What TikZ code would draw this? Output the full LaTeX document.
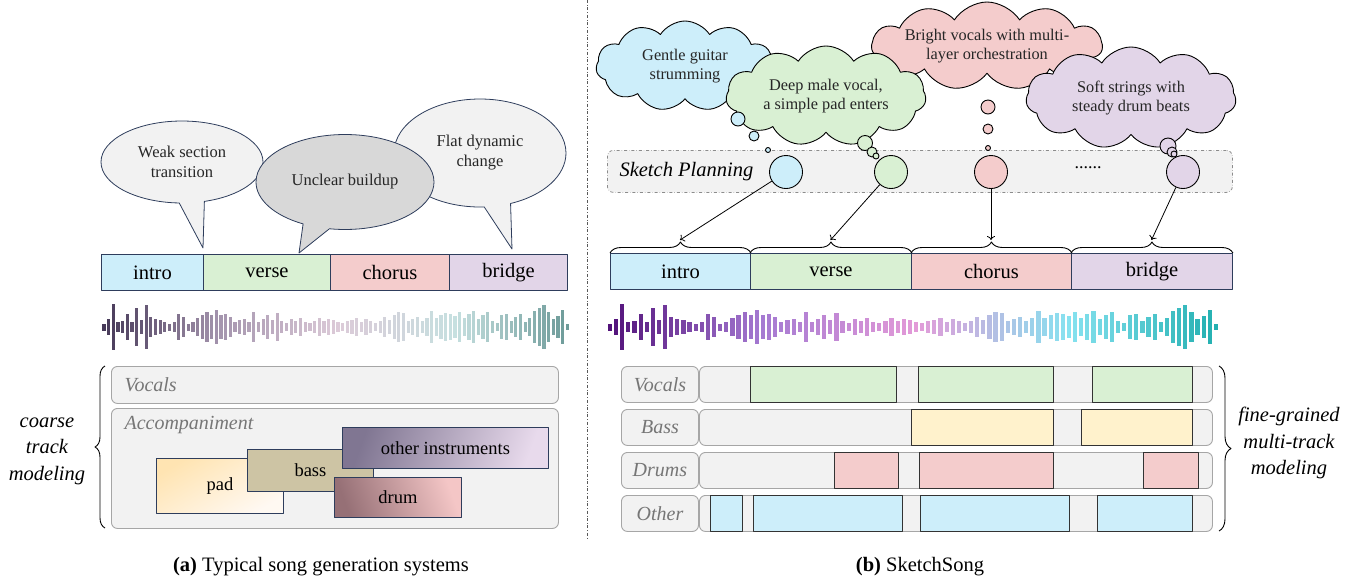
\documentclass[tikz,border=0pt]{standalone}
\usepackage{fontspec}
\setmainfont{Liberation Serif}
\usetikzlibrary{shapes.symbols,shapes.callouts,decorations.pathreplacing,arrows.meta}

\definecolor{cBlue}{HTML}{CDEEFA}
\definecolor{cGreen}{HTML}{D9F0D3}
\definecolor{cPink}{HTML}{F4CCCC}
\definecolor{cPurple}{HTML}{E2D5E8}
\definecolor{cYellow}{HTML}{FFF2CC}
\definecolor{secline}{HTML}{2E3D5C}
\definecolor{bubL}{HTML}{F2F2F2}
\definecolor{bubD}{HTML}{D8D8D8}
\definecolor{trkfill}{HTML}{F2F2F2}
\definecolor{trkline}{HTML}{A6A6A6}
\definecolor{lblgray}{HTML}{767676}
\definecolor{wA1}{HTML}{463958}
\definecolor{wA2}{HTML}{A595AE}
\definecolor{wA3}{HTML}{DCCAD8}
\definecolor{wA4}{HTML}{C6E0E0}
\definecolor{wA5}{HTML}{6A9896}
\definecolor{wB1}{HTML}{52127A}
\definecolor{wB2}{HTML}{A57AD2}
\definecolor{wB3}{HTML}{E39AD8}
\definecolor{wB4}{HTML}{86E2F0}
\definecolor{wB5}{HTML}{1FAEAE}

\newcommand\drawwave[8]{%
  \foreach \h [count=\i from 0] in {3.5,8,23,5,6,13,5,19,7,22,
    10,8,7,5,3.5,5,13,10,3.5,5,
    9,12,15,12,17,12,13,10,5,7,
    8,5,15,5,8,12,7,14,6,4,
    8,6,9,5,4,6,9,6,8,7,
    5,4,6,7,9,5,8,6,4,6,
    10,7,12,15,14,6,8,10,6,9,
    16,9,12,14,13,11,15,9,13,16,
    8,12,15,6,4,12,13,6,10,13,
    5,9,16,19,22,15,8,11,17,3}{%
    \pgfmathsetmacro\xx{#1+\i*#2}%
    \pgfmathtruncatemacro\seg{\i/25}%
    \pgfmathtruncatemacro\pc{100-4*mod(\i,25)}%
    \ifcase\seg\colorlet{wc}{#4!\pc!#5}\or\colorlet{wc}{#5!\pc!#6}\or\colorlet{wc}{#6!\pc!#7}\else\colorlet{wc}{#7!\pc!#8}\fi
    \fill[wc] (\xx-#3/2,327-\h) rectangle (\xx+#3/2,327+\h);
  }%
}

\tikzset{
  sec/.style={draw=secline, line width=0.9pt, inner sep=0pt, minimum height=36pt, anchor=north west, font=\fontsize{20.5}{24}\selectfont},
  bub/.style={ellipse callout, draw=secline, line width=0.8pt, align=center, inner sep=0pt, callout pointer arc=18, text=black!85, font=\fontsize{16.5}{20}\selectfont},
  brc/.style={decorate, decoration={brace, amplitude=#1}, line width=0.9pt},
  arr/.style={-{To[length=4pt,width=8pt]}, line width=0.8pt},
  trk/.style={draw=trkline, fill=trkfill, rounded corners=6pt, line width=0.9pt, inner sep=0pt, anchor=north west},
  lbl/.style={font=\fontsize{20}{24}\selectfont\itshape, text=lblgray},
  inst/.style={draw=secline, line width=0.9pt, inner sep=0pt, anchor=north west, font=\fontsize{18.5}{22}\selectfont},
  blk/.style={draw=black!80, line width=0.9pt},
  cld/.style={cloud, cloud puffs=11, cloud puff arc=115, cloud ignores aspect, draw=black, line width=0.9pt, align=center, inner sep=0pt, font=\fontsize{16.3}{19.5}\selectfont, text=black!85},
  tb/.style={circle, draw=black, line width=0.9pt, inner sep=0pt, minimum size=#1},
  sidetxt/.style={align=center, font=\fontsize{20.5}{26.5}\selectfont\itshape},
  captxt/.style={font=\fontsize{20.5}{24}\selectfont}
}

\begin{document}
\begin{tikzpicture}[x=1pt,y=-1pt,line join=round]
\useasboundingbox (0,0) rectangle (1365,582);

% divider
\coordinate (dvT) at (587,0);
\coordinate (dvB) at (587,540);
\draw[dash dot, black!65, line width=0.8pt] (dvT) -- (dvB);

% ---------------- left panel ----------------
\coordinate (tipW) at (203,248);
\node[bub, fill=bubL, minimum width=162pt, minimum height=82pt, callout absolute pointer={(tipW)}] (bW) at (182,162) {Weak section\\transition};
\coordinate (tipF) at (512,249);
\node[bub, fill=bubL, minimum width=172pt, minimum height=108pt, callout absolute pointer={(tipF)}] (bF) at (480,153) {Flat dynamic\\change};
\coordinate (tipU) at (299,253);
\node[bub, fill=bubD, minimum width=178pt, minimum height=95pt, callout absolute pointer={(tipU)}] (bU) at (345,182) {Unclear buildup};

\node[sec, fill=cBlue, minimum width=102pt] (li) at (101,254) {intro};
\node[sec, fill=cGreen, minimum width=127pt] (lv) at (203,254) {verse};
\node[sec, fill=cPink, minimum width=119pt] (lc) at (330,254) {chorus};
\node[sec, fill=cPurple, minimum width=118pt] (lb) at (449,254) {bridge};

\drawwave{104}{4.68}{3.2}{wA1}{wA2}{wA3}{wA4}{wA5}

\node[trk, minimum width=447pt, minimum height=37pt] (lvoc) at (111,366) {};
\node[lbl, anchor=west] (lvocT) at (121,385) {Vocals};
\node[trk, minimum width=447pt, minimum height=120pt] (lacc) at (111,408) {};
\node[lbl, anchor=west] (laccT) at (121,425) {Accompaniment};

\node[inst, top color=yellow!30!orange!30, bottom color=orange!5, shading angle=30, minimum width=127pt, minimum height=55pt] (pad) at (156,458) {pad};
\node[inst, fill={rgb,255:red,205;green,196;blue,164}, minimum width=126pt, minimum height=42pt] (bass) at (247,449) {bass};
\node[inst, left color={rgb,255:red,128;green,118;blue,146}, right color={rgb,255:red,232;green,218;blue,236}, shading angle=70, minimum width=206pt, minimum height=41pt] (oth) at (342,427) {other instruments};
\node[inst, left color={rgb,255:red,150;green,112;blue,118}, right color={rgb,255:red,244;green,198;blue,198}, shading angle=110, minimum width=127pt, minimum height=40pt] (drum) at (334,477) {drum};

\coordinate (lbrA) at (105,528);
\coordinate (lbrB) at (105,366);
\draw[brc=10pt] (lbrA) -- (lbrB);
\node[sidetxt] (coarse) at (47,451) {coarse\\track\\modeling};

\node[captxt] (capA) at (321,567) {\textbf{(a)} Typical song generation systems};

% ---------------- right panel ----------------
\node[draw=black!45, dash dot, fill=trkfill, rounded corners=6pt, line width=0.8pt, minimum width=625pt, minimum height=42pt, anchor=north west, inner sep=0pt] (band) at (607,150) {};
\node[font=\fontsize{20.5}{24}\selectfont\itshape, anchor=west] (spT) at (616,172) {Sketch Planning};
\node[font=\fontsize{18}{22}\selectfont] (dots) at (1088,168) {......};

\node[cld, fill=cBlue, minimum width=178pt, minimum height=90pt] (cB) at (685,66) {Gentle guitar\\strumming};
\node[cld, fill=cPink, minimum width=210pt, minimum height=88pt] (cP) at (987,46) {Bright vocals with multi-\\layer orchestration};
\node[cld, fill=cGreen, minimum width=200pt, minimum height=100pt] (cG) at (826,96) {Deep male vocal,\\a simple pad enters};
\node[cld, fill=cPurple, minimum width=210pt, minimum height=102pt] (cU) at (1131,98) {Soft strings with\\steady drum beats};

% thought circles
\node[tb=14pt, fill=cBlue] (b1) at (738,119) {};
\node[tb=10pt, fill=cBlue] (b2) at (754,136) {};
\node[tb=5pt, fill=cBlue] (b3) at (768,150) {};
\node[tb=33pt, fill=cBlue] (pB) at (786,172) {};
\node[tb=15pt, fill=cGreen] (g1) at (865,143) {};
\node[tb=10pt, fill=cGreen] (g2) at (872,152) {};
\node[tb=6pt, fill=cGreen] (g3) at (876,156) {};
\node[tb=33pt, fill=cGreen] (pG) at (891,172) {};
\node[tb=14pt, fill=cPink] (r1) at (988,107) {};
\node[tb=10pt, fill=cPink] (r2) at (988,129) {};
\node[tb=5pt, fill=cPink] (r3) at (988,148) {};
\node[tb=33pt, fill=cPink] (pP) at (991,172) {};
\node[tb=16pt, fill=cPurple] (u1) at (1168,146) {};
\node[tb=10pt, fill=cPurple] (u2) at (1172,152) {};
\node[tb=6pt, fill=cPurple] (u3) at (1174,154) {};
\node[tb=33pt, fill=cPurple] (pU) at (1183,172) {};

% sections
\node[sec, fill=cBlue, minimum width=140pt] (ri) at (610,253) {intro};
\node[sec, fill=cGreen, minimum width=161pt] (rv) at (750,253) {verse};
\node[sec, fill=cPink, minimum width=160pt] (rc) at (911,253) {chorus};
\node[sec, fill=cPurple, minimum width=161pt] (rb) at (1071,253) {bridge};

\draw[brc=11pt] (ri.north west) -- (ri.north east);
\draw[brc=11pt] (rv.north west) -- (rv.north east);
\draw[brc=11pt] (rc.north west) -- (rc.north east);
\draw[brc=11pt] (rb.north west) -- (rb.north east);
\coordinate (ti) at (680,240);
\coordinate (tv) at (830.5,240);
\coordinate (tc) at (991,240);
\coordinate (tbr) at (1151.5,240);
\draw[arr] (pB) -- (ti);
\draw[arr] (pG) -- (tv);
\draw[arr] (pP) -- (tc);
\draw[arr] (pU) -- (tbr);

\drawwave{610}{6.12}{4.2}{wB1}{wB2}{wB3}{wB4}{wB5}

% tracks
\node[trk, minimum width=77pt, minimum height=36pt, lbl] (tl1) at (621,366) {Vocals};
\node[trk, minimum width=513pt, minimum height=36pt] (tr1) at (699,366) {};
\node[trk, minimum width=77pt, minimum height=36pt, lbl] (tl2) at (621,409) {Bass};
\node[trk, minimum width=513pt, minimum height=36pt] (tr2) at (699,409) {};
\node[trk, minimum width=77pt, minimum height=36pt, lbl] (tl3) at (621,452) {Drums};
\node[trk, minimum width=513pt, minimum height=36pt] (tr3) at (699,452) {};
\node[trk, minimum width=77pt, minimum height=36pt, lbl] (tl4) at (621,495) {Other};
\node[trk, minimum width=513pt, minimum height=36pt] (tr4) at (699,495) {};

\draw[blk, fill=cGreen] (750,366) rectangle (896,402);
\draw[blk, fill=cGreen] (918,366) rectangle (1053,402);
\draw[blk, fill=cGreen] (1092,366) rectangle (1192,402);
\draw[blk, fill=cYellow] (911,409) rectangle (1053,445);
\draw[blk, fill=cYellow] (1081,409) rectangle (1192,445);
\draw[blk, fill=cPink] (834,452) rectangle (898,488);
\draw[blk, fill=cPink] (919,452) rectangle (1053,488);
\draw[blk, fill=cPink] (1143,452) rectangle (1198,488);
\draw[blk, fill=cBlue] (710,495) rectangle (742,531);
\draw[blk, fill=cBlue] (753,495) rectangle (902,531);
\draw[blk, fill=cBlue] (920,495) rectangle (1069,531);
\draw[blk, fill=cBlue] (1097,495) rectangle (1192,531);

\coordinate (rbrA) at (1219,366);
\coordinate (rbrB) at (1219,531);
\draw[brc=12pt] (rbrA) -- (rbrB);
\node[sidetxt] (fine) at (1289,443) {fine-grained\\multi-track\\modeling};

\node[captxt] (capB) at (920,567) {\textbf{(b)} SketchSong};
\end{tikzpicture}
\end{document}
